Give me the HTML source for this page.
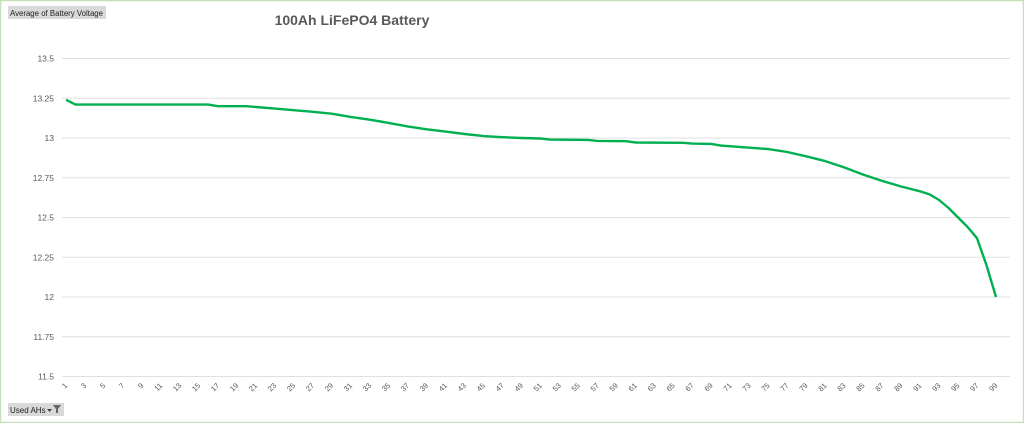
<!DOCTYPE html>
<html><head><meta charset="utf-8"><style>
html,body{margin:0;padding:0;background:#fff;}
body{width:1024px;height:423px;overflow:hidden;font-family:"Liberation Sans",sans-serif;}
</style></head><body>
<svg id="s" width="1024" height="423" xmlns="http://www.w3.org/2000/svg" font-family="Liberation Sans, sans-serif">
<rect x="0.5" y="0.5" width="1023" height="422" fill="#fff" stroke="#c5e0b4" stroke-width="1.5"/>
<rect x="8" y="6" width="98" height="13" fill="#d9d9d9"/>
<text x="10" y="16" font-size="7.8" fill="#222" textLength="93">Average of Battery Voltage</text>
<text x="352" y="25" font-size="14" font-weight="bold" fill="#595959" text-anchor="middle">100Ah LiFePO4 Battery</text>
<rect x="8" y="403" width="56" height="13" fill="#d9d9d9"/>
<text x="10" y="413" font-size="8" fill="#222">Used AHs</text>
<path d="M47 409 l5 0 l-2.5 3 z" fill="#444"/>
<path d="M53 405 l8 0 l-3 4 l0 4 l-2 0 l0 -4 z" fill="#666"/>
<g id="grid"></g>
<g id="xl" font-size="7.5" fill="#595959"></g>
<polyline id="ln" fill="none" stroke="#00b050" stroke-width="2.4" stroke-linejoin="round"/>
</svg>
<script>
var ns="http://www.w3.org/2000/svg",g=document.getElementById('grid'),xl=document.getElementById('xl');
function Y(v){return 297-(v-12)*159;}
var labs=["13.5","13.25","13","12.75","12.5","12.25","12","11.75","11.5"];
labs.forEach(function(l){var y=Y(parseFloat(l));var r=document.createElementNS(ns,'line');r.setAttribute('x1',62);r.setAttribute('x2',1010);r.setAttribute('y1',y);r.setAttribute('y2',y);r.setAttribute('stroke','#e0e0e0');r.setAttribute('stroke-width','1');g.appendChild(r);
var t=document.createElementNS(ns,'text');t.setAttribute('x',54);t.setAttribute('y',y+3);t.setAttribute('text-anchor','end');t.setAttribute('font-size','8.5');t.setAttribute('fill','#595959');t.textContent=l;g.appendChild(t);});
function X(i){return 66+(i-1)*9.49;}
for(var i=1;i<=99;i+=2){var t=document.createElementNS(ns,'text');var x=X(i)+2,y=386;t.setAttribute('x',x);t.setAttribute('y',y);t.setAttribute('text-anchor','end');t.setAttribute('transform','rotate(-45 '+x+' '+y+')');t.textContent=i;xl.appendChild(t);}
var a=[[1,13.24],[2,13.21],[16,13.21],[17,13.20],[20,13.20],[21,13.195],[23,13.185],[25,13.175],[27,13.165],[29,13.153],[31,13.133],[33,13.115],[35,13.095],[37,13.073],[39,13.055],[41,13.04],[43,13.025],[45,13.012],[47,13.005],[49,13.0],[51,12.997],[52,12.99],[56,12.988],[57,12.982],[60,12.98],[61,12.972],[66,12.97],[67,12.965],[69,12.963],[70,12.952],[75,12.93],[77,12.912],[79,12.885],[81,12.855],[83,12.815],[85,12.77],[87,12.73],[89,12.695],[91,12.665],[92,12.645],[93,12.61],[94,12.56],[95,12.5],[96,12.44],[97,12.37],[98,12.2],[99,12.0]];
document.getElementById('ln').setAttribute('points',a.map(function(p){return X(p[0]).toFixed(1)+','+Y(p[1]).toFixed(1);}).join(' '));
</script>
</body></html>
